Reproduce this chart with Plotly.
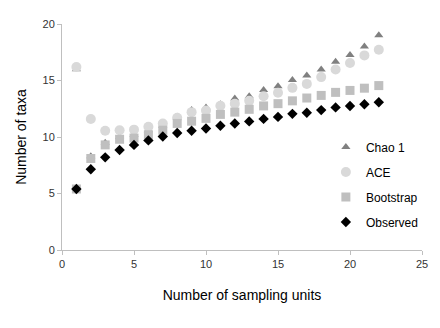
import plotly.graph_objects as go

units = list(range(1, 23))
chao1 = [16.0, 8.3, 9.5, 10.0, 10.2, 10.6, 11.0, 11.8, 12.4, 12.6, 12.9, 13.4, 13.6, 14.15, 14.5, 15.05, 15.45, 15.98, 16.65, 17.25, 18.0, 19.0]
ace = [16.2, 11.6, 10.55, 10.6, 10.65, 10.9, 11.2, 11.7, 12.2, 12.35, 12.77, 12.95, 13.2, 13.6, 13.92, 14.35, 14.7, 15.3, 15.98, 16.55, 17.22, 17.72]
bootstrap = [5.4, 8.1, 9.3, 9.8, 9.9, 10.2, 10.6, 11.2, 11.4, 11.65, 12.0, 12.2, 12.45, 12.75, 12.95, 13.2, 13.45, 13.68, 13.95, 14.12, 14.32, 14.55]
observed = [5.4, 7.15, 8.2, 8.85, 9.3, 9.7, 10.05, 10.35, 10.55, 10.75, 11.0, 11.2, 11.38, 11.6, 11.78, 12.05, 12.15, 12.38, 12.62, 12.74, 12.9, 13.08]

series = [
    ("Chao 1", chao1, "triangle-up", "#808080", 8),
    ("ACE", ace, "circle", "#d9d9d9", 10),
    ("Bootstrap", bootstrap, "square", "#bfbfbf", 9),
    ("Observed", observed, "diamond", "#000000", 8),
]

fig = go.Figure()
for i, (name, vals, sym, col, sz) in enumerate(series):
    fig.add_trace(go.Scatter(
        x=units, y=vals, mode="markers", name=name, legendgroup=name,
        marker=dict(symbol=sym, color=col, size=sz, line=dict(width=0)),
    ))

axis_font = dict(family="Liberation Sans, Arial, sans-serif", size=11, color="#333333")
# the page body adds an 8px margin, so the figure is 8px smaller and margins compensate
fig.update_layout(
    width=432, height=320,
    margin=dict(l=54, r=18, t=16, b=78, autoexpand=False),
    paper_bgcolor="white", plot_bgcolor="white",
    font=dict(family="Liberation Sans, Arial, sans-serif", size=12, color="#000000"),
    showlegend=True,
    legend=dict(x=0.733, y=0.52, xanchor="left", yanchor="top",
                traceorder="grouped", tracegroupgap=6,
                font=dict(size=12, color="#000000"), itemwidth=30,
                bgcolor="rgba(0,0,0,0)"),
    xaxis=dict(range=[0, 25], tickvals=[0, 5, 10, 15, 20, 25], showgrid=False, zeroline=False,
               showline=True, linecolor="#bfbfbf", linewidth=1, ticks="outside", automargin=False,
               ticklen=4, tickcolor="#bfbfbf", tickfont=axis_font,
               title=dict(text="Number of sampling units", font=dict(size=14, color="#000000"), standoff=20)),
    yaxis=dict(range=[0, 20], tickvals=[0, 5, 10, 15, 20], showgrid=False, zeroline=False,
               showline=True, linecolor="#bfbfbf", linewidth=1, ticks="outside", automargin=False,
               ticklen=4, tickcolor="#bfbfbf", tickfont=axis_font,
               title=dict(text="Number of taxa", font=dict(size=14, color="#000000"), standoff=12)),
)

fig.write_html("out.html")
